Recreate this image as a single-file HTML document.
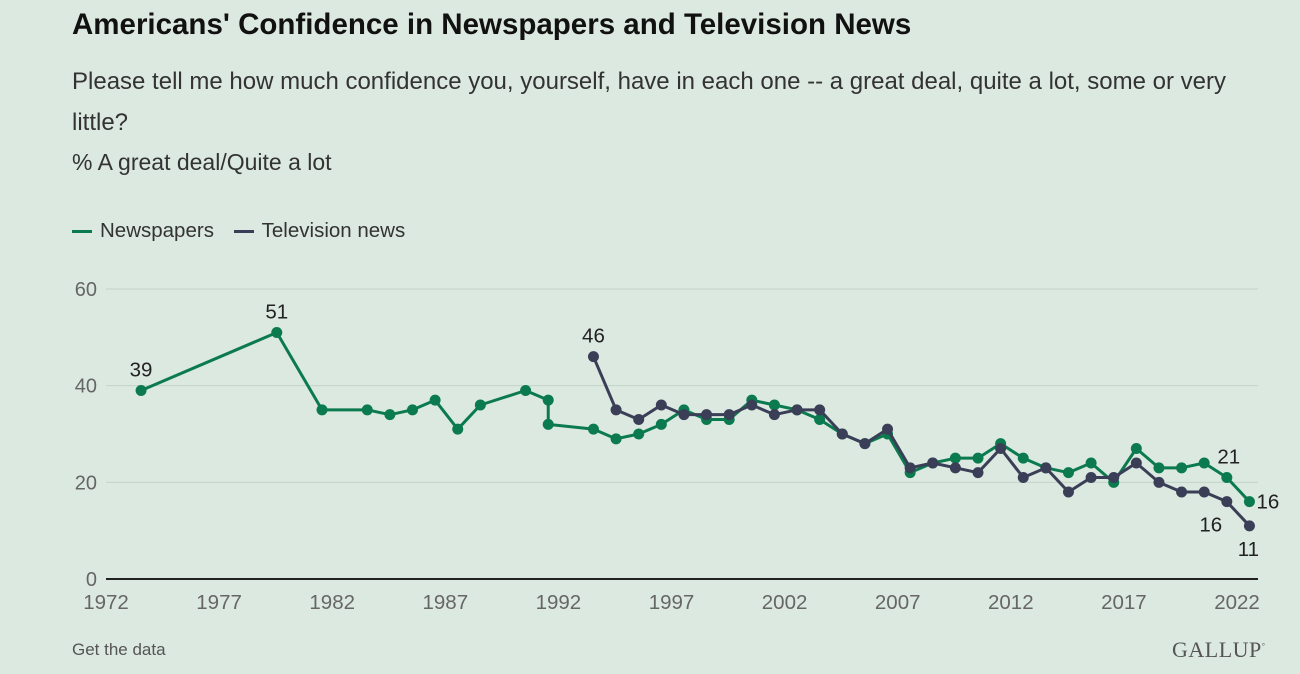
<!DOCTYPE html>
<html><head><meta charset="utf-8"><style>
body{margin:0;width:1300px;height:674px;background:#dce9e0;font-family:"Liberation Sans",sans-serif;overflow:hidden;position:relative}
.t{position:absolute;left:72px;margin:0}
</style></head><body>
<h1 class="t" style="top:8px;font-size:29.5px;font-weight:bold;color:#111;white-space:nowrap">Americans' Confidence in Newspapers and Television News</h1>
<div class="t" style="top:61px;width:1190px;font-size:24px;line-height:41px;color:#333">Please tell me how much confidence you, yourself, have in each one -- a great deal, quite a lot, some or very little?</div>
<div class="t" style="top:149px;font-size:23px;color:#333">% A great deal/Quite a lot</div>
<div class="t" style="top:219px;font-size:20.5px;color:#333">
<span><span style="display:inline-block;width:20px;height:3px;background:#0b7a4e;vertical-align:middle;margin-right:8px"></span>Newspapers</span>
<span style="margin-left:14px"><span style="display:inline-block;width:20px;height:3px;background:#3a3e57;vertical-align:middle;margin-right:8px"></span>Television news</span>
</div>
<svg id="chart" width="1300" height="674" style="position:absolute;left:0;top:0"></svg>
<div class="t" style="top:640px;font-size:17px;color:#555">Get the data</div>
<div style="position:absolute;left:1172px;top:637px;font-family:'Liberation Serif',serif;font-size:22px;color:#555;letter-spacing:0.5px">GALLUP<sup style="font-size:8px">°</sup></div>
<script>
const npYears=[1973,1979,1981,1983,1984,1985,1986,1987,1988,1990,1991,1991,1993,1994,1995,1996,1997,1998,1999,2000,2001,2002,2003,2004,2005,2006,2007,2008,2009,2010,2011,2012,2013,2014,2015,2016,2017,2018,2019,2020,2021,2022];
const npVals=[39,51,35,35,34,35,37,31,36,39,37,32,31,29,30,32,35,33,33,37,36,35,33,30,28,30,22,24,25,25,28,25,23,22,24,20,27,23,23,24,21,16];
const tvYears=[1993,1994,1995,1996,1997,1998,1999,2000,2001,2002,2003,2004,2005,2006,2007,2008,2009,2010,2011,2012,2013,2014,2015,2016,2017,2018,2019,2020,2021,2022];
const tvVals=[46,35,33,36,34,34,34,36,34,35,35,30,28,31,23,24,23,22,27,21,23,18,21,21,24,20,18,18,16,11];
const yTicks=[0,20,40,60];
const xTicks=[1972,1977,1982,1987,1992,1997,2002,2007,2012,2017,2022];
const svg=document.getElementById('chart');const NS='http://www.w3.org/2000/svg';
const X0=106,X1=1237,Y0=579,Y60=289;
const xs=y=>X0+(y-1972)*(X1-X0)/50;
const xp=y=>xs(y+0.55);
const ys=v=>Y0-v*(Y0-Y60)/60;
function mk(t,a){const e=document.createElementNS(NS,t);for(const k in a)e.setAttribute(k,a[k]);svg.appendChild(e);return e;}
yTicks.forEach(v=>{
 const l=mk('line',{x1:106,x2:1258,y1:ys(v),y2:ys(v),stroke:v?'#c2d3c7':'#222','stroke-width':v?1:2});
 
 
 const t=mk('text',{x:97,y:ys(v)+7,'text-anchor':'end','font-size':20,fill:'#666'});t.textContent=v;
 
 
});
xTicks.forEach(y=>{
 const t=mk('text',{x:xs(y),y:609,'text-anchor':'middle','font-size':20.5,fill:'#666'});t.textContent=y;
 
 
});
function series(yrs,vals,col,name){
 const p=mk('polyline',{points:yrs.map((y,i)=>xp(y)+','+ys(vals[i])).join(' '),fill:'none',stroke:col,'stroke-width':3,'stroke-linejoin':'round'});
 
 
 yrs.forEach((y,i)=>{const c=mk('circle',{cx:xp(y),cy:ys(vals[i]),r:5.5,fill:col});
  
  });
}
series(npYears,npVals,'#0b7a4e','newspapers');
series(tvYears,tvVals,'#3a3e57','tv');
function lab(x,y,s,anchor){const t=mk('text',{x:x,y:y,'text-anchor':anchor||'middle','font-size':20.5,fill:'#222'});t.textContent=s;
 
 }
lab(xp(1973),ys(npVals[0])-14,npVals[0]);
lab(xp(1979),ys(npVals[1])-14,npVals[1]);
lab(xp(1993),ys(tvVals[0])-14,tvVals[0]);
lab(xp(2021)+2,ys(npVals[40])-14,npVals[40]);
lab(xp(2022)+7,ys(npVals[41])+7,npVals[41],'start');
lab(xp(2021)-16,ys(tvVals[28])+30,tvVals[28]);
lab(xp(2022)-1,ys(tvVals[29])+30,tvVals[29]);
</script>
</body></html>
